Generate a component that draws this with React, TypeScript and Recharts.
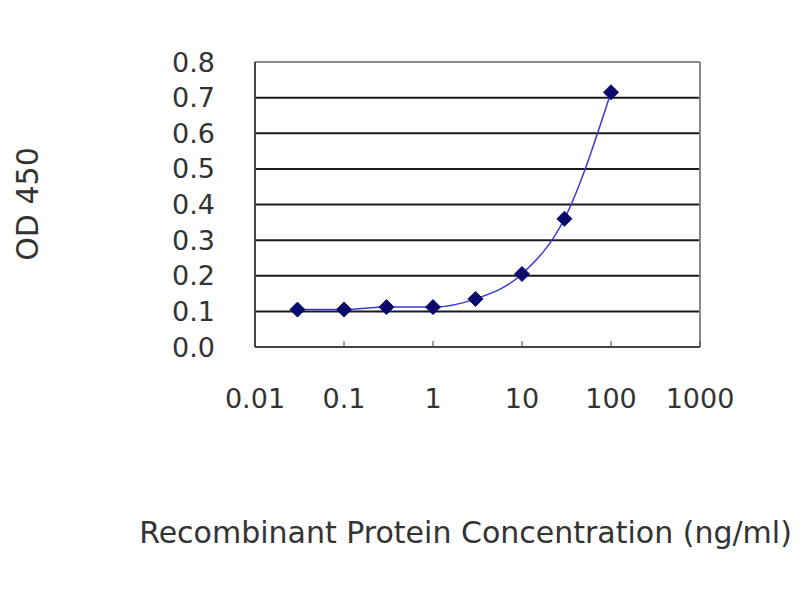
import React from 'react';
import { LineChart, Line, XAxis, YAxis, CartesianGrid, ReferenceLine, Label } from 'recharts';

// concentrations (ng/ml) and measured OD 450
const concentrations = [0.03, 0.1, 0.3, 1, 3, 10, 30, 100];
const odValues = [0.105, 0.105, 0.112, 0.112, 0.135, 0.205, 0.36, 0.715];
const xTicks = [0.01, 0.1, 1, 10, 100, 1000];
const yTicks = [0, 0.1, 0.2, 0.3, 0.4, 0.5, 0.6, 0.7, 0.8];

const data = concentrations.map((c, i) => ({ conc: c, od: odValues[i] }));

const FONT = '"DejaVu Sans", sans-serif';

const Diamond = (props: any) => {
  const { cx, cy } = props;
  if (cx == null || cy == null) return null;
  const r = 7.5;
  return (
    <polygon
      points={`${cx},${cy - r} ${cx + r},${cy} ${cx},${cy + r} ${cx - r},${cy}`}
      fill="#0a0a6e"
      stroke="#0a0a6e"
    />
  );
};

export default function App() {
  return (
    <div style={{ position: 'relative', width: 800, height: 600, background: '#fff', fontFamily: FONT }}>
      <style>{'body{margin:0}'}</style>
      <LineChart width={800} height={600} data={data} margin={{ top: 62, right: 100, left: 0, bottom: 0 }}>
        <CartesianGrid vertical={false} stroke="#1a1a1a" strokeWidth={2} />
        <XAxis
          dataKey="conc"
          type="number"
          scale="log"
          domain={[0.01, 1000]}
          ticks={xTicks}
          interval={0}
          allowDataOverflow
          height={253}
          axisLine={{ stroke: '#444', strokeWidth: 2 }}
          tickLine={{ stroke: '#444', strokeWidth: 1 }}
          tickSize={-6}
          tickMargin={48}
          tick={{ fontSize: 27, fill: '#333', fontFamily: FONT }}
          tickFormatter={(v: number) => String(v)}
        >
          <Label
            value="Recombinant Protein Concentration (ng/ml)"
            position="insideBottom"
            offset={57}
            dx={-12}
            style={{ fontSize: 30, fill: '#333', fontFamily: FONT }}
          />
        </XAxis>
        <YAxis
          type="number"
          domain={[0, 0.8]}
          ticks={yTicks}
          interval={0}
          width={255}
          axisLine={{ stroke: '#444', strokeWidth: 2 }}
          tickLine={false}
          tickSize={0}
          tickMargin={40}
          tick={{ fontSize: 27, fill: '#333', fontFamily: FONT }}
          tickFormatter={(v: number) => v.toFixed(1)}
        />
        <ReferenceLine y={0.8} stroke="#888" strokeWidth={2} />
        <ReferenceLine x={1000} stroke="#888" strokeWidth={2} />
        <Line
          type="monotone"
          dataKey="od"
          stroke="#3a3ad0"
          strokeWidth={1.5}
          dot={<Diamond />}
          activeDot={false}
          isAnimationActive={false}
        />
      </LineChart>
      <div
        style={{
          position: 'absolute',
          left: 27,
          top: 204,
          transform: 'translate(-50%, -50%) rotate(-90deg)',
          fontSize: 30,
          color: '#333',
          whiteSpace: 'nowrap',
        }}
      >
        OD 450
      </div>
    </div>
  );
}
